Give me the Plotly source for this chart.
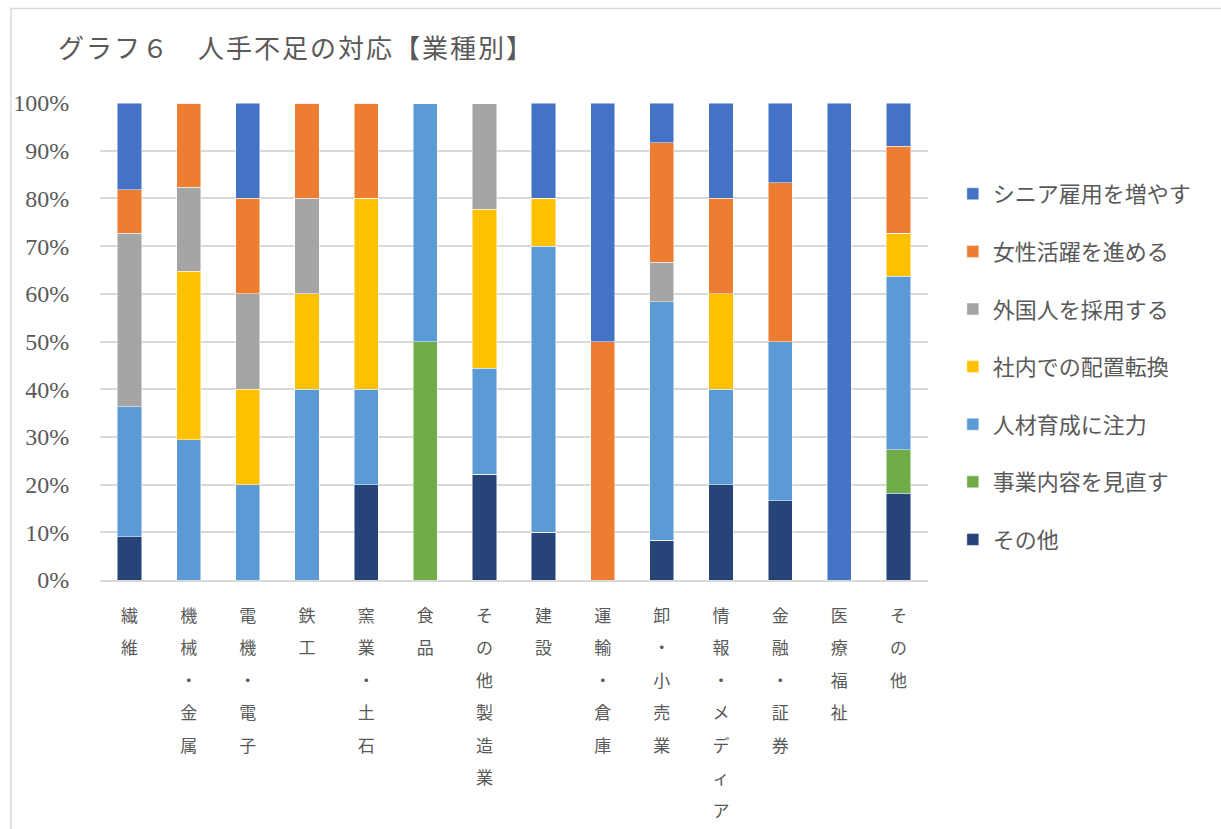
import plotly.graph_objects as go

# Industries (x categories)
industries = ["繊維", "機械・金属", "電機・電子", "鉄工", "窯業・土石", "食品", "その他製造業",
              "建設", "運輸・倉庫", "卸・小売業", "情報・メディア", "金融・証券", "医療福祉", "その他"]

# Number of responses per measure, per industry (stacked bottom to top)
sonota      = [1, 0, 0, 0, 1, 0, 2, 1, 0, 1, 1, 1, 0, 2]   # その他
jigyou      = [0, 0, 0, 0, 0, 1, 0, 0, 0, 0, 0, 0, 0, 1]   # 事業内容を見直す
jinzai      = [3, 5, 1, 2, 1, 1, 2, 6, 0, 6, 1, 2, 0, 4]   # 人材育成に注力
haichi      = [0, 6, 1, 1, 2, 0, 3, 1, 0, 0, 1, 0, 0, 1]   # 社内での配置転換
gaikokujin  = [4, 3, 1, 1, 0, 0, 2, 0, 0, 1, 0, 0, 0, 0]   # 外国人を採用する
josei       = [1, 3, 1, 1, 1, 0, 0, 0, 1, 3, 1, 2, 0, 2]   # 女性活躍を進める
senior      = [2, 0, 1, 0, 0, 0, 0, 2, 1, 1, 1, 1, 1, 1]   # シニア雇用を増やす

series = [
    ("その他", sonota, "#264478"),
    ("事業内容を見直す", jigyou, "#70AD47"),
    ("人材育成に注力", jinzai, "#5B9BD5"),
    ("社内での配置転換", haichi, "#FFC000"),
    ("外国人を採用する", gaikokujin, "#A5A5A5"),
    ("女性活躍を進める", josei, "#ED7D31"),
    ("シニア雇用を増やす", senior, "#4472C4"),
]

TEXT = "#595959"
CJK = "Noto Sans CJK JP"
SERIF = "Liberation Serif"


def vertical(label):
    # stack characters top to bottom, wider line pitch than glyph size
    return "<br>".join(f'<span style="font-size:17px">{ch}</span>' for ch in label)


fig = go.Figure()
n = len(series)
for i, (name, vals, color) in enumerate(series):
    fig.add_trace(go.Bar(
        x=industries, y=vals, name=name, legendgroup=f"g{i}", legendrank=n - i,
        marker=dict(color=color, line=dict(color="rgba(255,255,255,0.6)", width=0.8)),
    ))

fig.update_layout(
    width=1221, height=829,
    barmode="stack", barnorm="percent", bargap=0.59,
    paper_bgcolor="white", plot_bgcolor="white",
    margin=dict(l=100, r=293, t=103, b=249),
    font=dict(family=CJK, color=TEXT),
    title=dict(text='<span style="letter-spacing:2px">グラフ６　人手不足の対応【業種別】</span>',
               x=58 / 1221, xanchor="left", y=1 - 49 / 829, yanchor="middle",
               font=dict(size=26, color=TEXT, family=CJK)),
    legend=dict(x=1.03, xanchor="left", y=1 - 70 / 477, yanchor="top",
                traceorder="grouped", tracegroupgap=26,
                font=dict(size=22, color=TEXT, family=CJK)),
    showlegend=True,
    shapes=[dict(type="rect", xref="paper", yref="paper",
                 x0=-89 / 828, x1=1.6, y0=-1.0, y1=1 + 94.5 / 477,
                 line=dict(color="#D9D9D9", width=1.5), layer="below")],
)

fig.update_yaxes(range=[0, 100], dtick=10, ticksuffix="%", showgrid=True,
                 gridcolor="#D9D9D9", gridwidth=1.5, zeroline=False,
                 tickfont=dict(size=24, color=TEXT, family=SERIF),
                 ticks="outside", ticklen=0, ticklabelstandoff=25,
                 showline=False, fixedrange=True, automargin=False)
fig.update_xaxes(tickmode="array", tickvals=industries,
                 ticktext=[vertical(s) for s in industries],
                 tickfont=dict(size=25, color=TEXT, family=CJK),
                 showline=True, linecolor="#D9D9D9", linewidth=1.5,
                 ticks="", tickangle=0, ticklabelstandoff=10, fixedrange=True,
                 automargin=False)

fig.write_html("out.html")
